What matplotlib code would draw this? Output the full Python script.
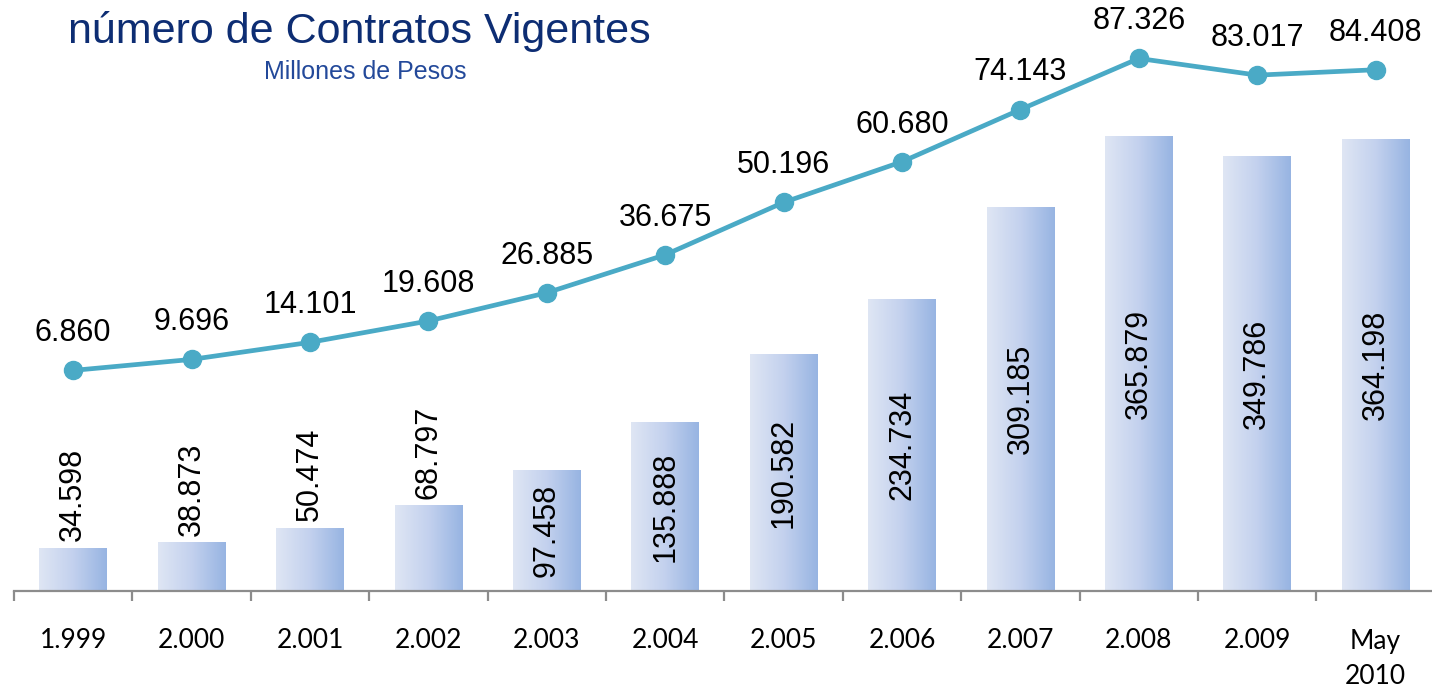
import numpy as np
import matplotlib
matplotlib.use('Agg')
import matplotlib.pyplot as plt
from matplotlib.colors import LinearSegmentedColormap

# ---- Data ----
categories = ['1.999', '2.000', '2.001', '2.002', '2.003', '2.004',
              '2.005', '2.006', '2.007', '2.008', '2.009', 'May\n2010']
cartera = [34.598, 38.873, 50.474, 68.797, 97.458, 135.888,
           190.582, 234.734, 309.185, 365.879, 349.786, 364.198]
contratos = [6.860, 9.696, 14.101, 19.608, 26.885, 36.675,
             50.196, 60.680, 74.143, 87.326, 83.017, 84.408]

def fmt(v):
    return f"{v:.3f}"

W, H = 1432, 687
fig = plt.figure(figsize=(W / 100, H / 100), dpi=100)
ax = fig.add_axes([14 / W, (H - 591) / H, 12 * 118.4 / W, 591 / H])
ax2 = ax.twinx()

x = np.arange(len(categories))
bw = 0.57
grad_cmap = LinearSegmentedColormap.from_list('barg', ['#dfe6f4', '#c3d1ee', '#97b4e2'])
grad = np.linspace(0, 1, 256).reshape(1, -1)

for xi, v in zip(x, cartera):
    ax.imshow(grad, extent=(xi - bw / 2, xi + bw / 2, 0, v), aspect='auto',
              cmap=grad_cmap, origin='lower', zorder=2, interpolation='bilinear')

ax.set_xlim(-0.5, 11.5)
ax.set_ylim(0, 591 / 1.241)

# bar labels: outside end for small bars, centred for the rest
for i, (xi, v) in enumerate(zip(x, cartera)):
    if i <= 3:
        ax.annotate(fmt(v), (xi, v), xytext=(0, 5), textcoords='offset points',
                    rotation=90, ha='center', va='bottom', fontsize=22,
                    family='Liberation Sans', color='black', zorder=4)
    else:
        ax.text(xi, v / 2, fmt(v), rotation=90, ha='center', va='center',
                fontsize=22, family='Liberation Sans', color='black', zorder=4)

# line series
line_color = '#4aaac6'
ax2.plot(x, contratos, color=line_color, lw=3.4, marker='o', ms=13,
         markerfacecolor=line_color, markeredgecolor=line_color, zorder=5)
ax2.set_ylim(-194 / 3.877, 397 / 3.877)
for xi, v in zip(x, contratos):
    ax2.annotate(fmt(v), (xi, v), xytext=(0, 16), textcoords='offset points',
                 ha='center', va='bottom', fontsize=22,
                 family='Liberation Sans', color='black')

# axes styling
for a in (ax, ax2):
    for s in ('top', 'right', 'left'):
        a.spines[s].set_visible(False)
    a.set_yticks([])
ax2.spines['bottom'].set_visible(False)
ax.spines['bottom'].set_color('#8c8c8c')
ax.spines['bottom'].set_linewidth(1.6)
ax.set_xticks(np.arange(-0.5, 12, 1.0))
ax.set_xticklabels([])
ax.tick_params(axis='x', which='major', direction='out', length=7,
               width=1.6, color='#8c8c8c')
ax.set_xticks(x, minor=True)
ax.set_xticklabels(categories, minor=True, fontsize=19, family='Lato',
                   linespacing=1.5, va='top')
ax.tick_params(axis='x', which='minor', length=0, pad=27)

# titles
fig.text(68 / W, 1 - 31 / H, 'número de Contratos Vigentes', fontsize=31,
         family='Liberation Sans', color='#0d2d73', ha='left', va='center')
fig.text(365 / W, 1 - 72 / H, 'Millones de Pesos', fontsize=18,
         family='Liberation Sans', color='#23499a', ha='center', va='center')

fig.savefig('out.png', dpi=100)
